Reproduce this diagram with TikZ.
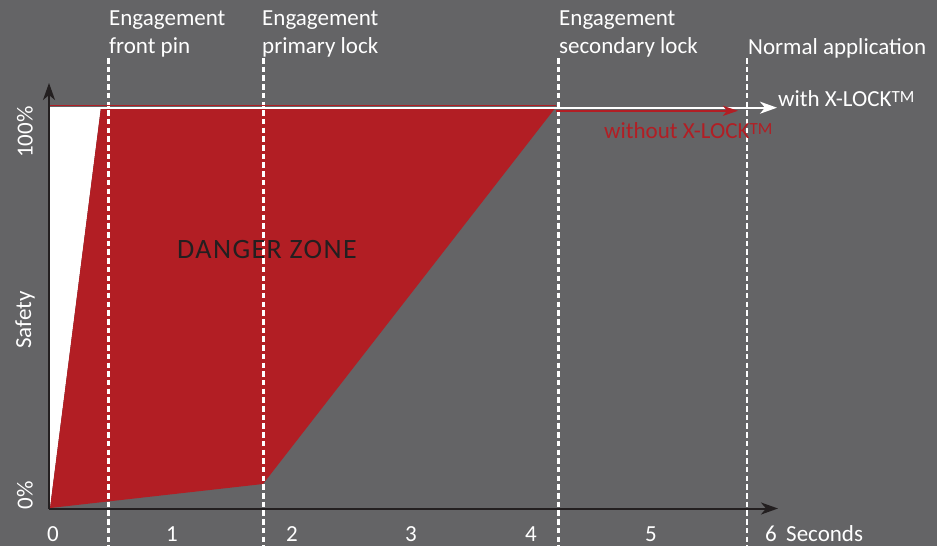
\documentclass[tikz,border=0pt]{standalone}
\usepackage{fontspec}
\setmainfont{Carlito}
\usetikzlibrary{arrows.meta}
\definecolor{bggray}{RGB}{100,100,102}
\definecolor{dzred}{RGB}{178,30,36}
\definecolor{axisblack}{RGB}{35,31,32}
\tikzset{
  axisline/.style={draw=axisblack,line width=2pt,-{Stealth[length=17pt,width=12pt,inset=5pt]}},
  dashline/.style={draw=white,line width=2.3pt,dash pattern=on 5.5pt off 3.2pt},
  lbl/.style={text=white,inner sep=0pt,font=\fontsize{23}{28}\selectfont},
  toplbl/.style={lbl,align=left,anchor=north west},
  ticklbl/.style={lbl,anchor=base},
  ylbl/.style={lbl,rotate=90,anchor=center},
}
\begin{document}
\begin{tikzpicture}[x=1pt,y=-1pt]
\useasboundingbox[fill=bggray] (0,0) rectangle (937,546);
% regions
\fill[white] (49,107) -- (101,107) -- (50,508) -- cycle;
\fill[dzred] (101,107) -- (556,107) -- (263,484) -- (50,508) -- cycle;
% dashed verticals
\coordinate (d1t) at (108.5,58); \coordinate (d1b) at (108.5,546);
\coordinate (d2t) at (263.5,58); \coordinate (d2b) at (263.5,546);
\coordinate (d3t) at (558.5,58); \coordinate (d3b) at (558.5,546);
\coordinate (d4t) at (747,58);   \coordinate (d4b) at (747,546);
\draw[dashline] (d1t) -- (d1b);
\draw[dashline] (d2t) -- (d2b);
\draw[dashline] (d3t) -- (d3b);
\draw[dashline] (d4t) -- (d4b);
% top lines
\coordinate (tl0) at (49,105.8); \coordinate (tl1) at (556,105.8);
\draw[dzred,line width=1pt] (tl0) -- (tl1);
\coordinate (wl0) at (49,107.7); \coordinate (wl1) at (777,107.7);
\draw[white,line width=2pt,-{Stealth[length=17pt,width=12pt,inset=5pt]}] (wl0) -- (wl1);
\coordinate (rl0) at (556,110.8); \coordinate (rl1) at (738,110.8);
\draw[dzred,line width=2.3pt,-{Stealth[length=15pt,width=10pt,inset=4pt]}] (rl0) -- (rl1);
% axes
\coordinate (origin) at (49,508.5);
\coordinate (ytip) at (49,83);
\coordinate (xtip) at (778,508.5);
\draw[axisline] (origin) -- (ytip);
\draw[axisline] (origin) -- (xtip);
% top labels
\node[toplbl] (e1) at (109,10.5) {Engagement\\front pin};
\node[toplbl] (e2) at (262,10.5) {Engagement\\primary lock};
\node[toplbl] (e3) at (559,10.5) {Engagement\\secondary lock};
\node[lbl,anchor=base west] (e4) at (748,54) {Normal application};
% curve labels
\node[lbl,anchor=base west] (with) at (778,106) {with X-LOCK{\fontsize{17}{20}\selectfont\raisebox{4pt}{TM}}};
\node[lbl,anchor=base west,text=dzred] (without) at (604,138) {without X-LOCK{\fontsize{17}{20}\selectfont\raisebox{4pt}{TM}}};
% danger zone
\node[inner sep=0pt,anchor=base west,text=axisblack,font=\fontsize{28}{32}\selectfont\addfontfeature{LetterSpace=5}] (dz) at (177,258) {DANGER ZONE};
% ticks
\node[ticklbl] (t0) at (53,541) {0};
\node[ticklbl] (t1) at (172,541) {1};
\node[ticklbl] (t2) at (292,541) {2};
\node[ticklbl] (t3) at (411,541) {3};
\node[ticklbl] (t4) at (531,541) {4};
\node[ticklbl] (t5) at (651,541) {5};
\node[ticklbl] (t6) at (771,541) {6};
\node[lbl,anchor=base west] (sec) at (786,541) {Seconds};
% y labels
\node[ylbl] (y100) at (25,132) {100\%};
\node[ylbl] (ysafe) at (25,320) {Safety};
\node[ylbl] (y0) at (25,495) {0\%};
\end{tikzpicture}
\end{document}
